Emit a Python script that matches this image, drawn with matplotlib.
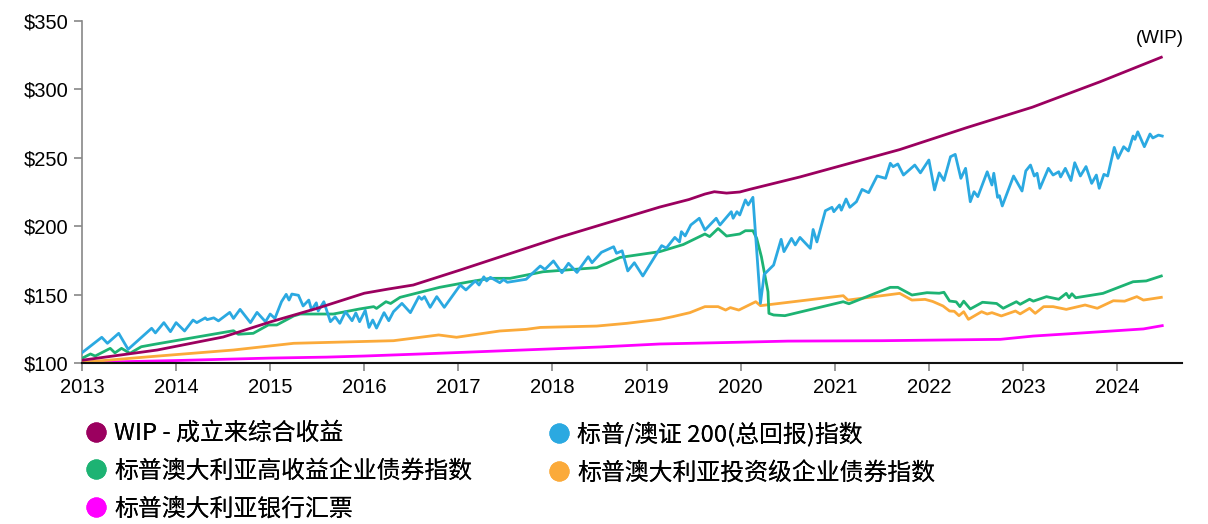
import matplotlib
matplotlib.use("Agg")
import matplotlib.pyplot as plt
from matplotlib.lines import Line2D

plt.rcParams['font.family'] = ['Noto Sans CJK SC', 'DejaVu Sans']

# series values (year, value)
wip_x = [2013.0, 2013.8, 2014.5, 2015.0, 2015.5, 2016.0, 2016.25, 2016.52, 2017.02, 2017.55,
         2018.08, 2018.61, 2019.14, 2019.45, 2019.62, 2019.72, 2019.85, 2019.99, 2020.1,
         2020.63, 2021.69, 2022.4, 2023.1, 2023.82, 2024.47]
wip_y = [102, 109.5, 119, 130, 140, 151, 154, 157, 168, 180,
         192, 203, 214, 219.5, 223.5, 225.2, 224.2, 225, 227,
         236, 256, 272, 287, 305.6, 323.5]

asx_x = [2013.0, 2013.21, 2013.27, 2013.39, 2013.49, 2013.74, 2013.78, 2013.87, 2013.94, 2014.0,
         2014.09, 2014.18, 2014.22, 2014.31, 2014.33, 2014.40, 2014.45, 2014.57, 2014.61, 2014.68,
         2014.79, 2014.86, 2014.95, 2015.0, 2015.05, 2015.12, 2015.17, 2015.20, 2015.23, 2015.30,
         2015.35, 2015.41, 2015.44, 2015.49, 2015.51, 2015.57, 2015.64, 2015.69, 2015.74, 2015.80,
         2015.87, 2015.91, 2015.95, 2016.01, 2016.05, 2016.09, 2016.13, 2016.21, 2016.26, 2016.31,
         2016.40, 2016.49, 2016.58, 2016.61, 2016.64, 2016.70, 2016.77, 2016.85, 2017.02, 2017.08,
         2017.18, 2017.22, 2017.27, 2017.30, 2017.34, 2017.44, 2017.48, 2017.52, 2017.72, 2017.87,
         2017.92, 2018.01, 2018.10, 2018.17, 2018.26, 2018.38, 2018.42, 2018.52, 2018.65, 2018.68,
         2018.74, 2018.80, 2018.87, 2018.96, 2019.16, 2019.21, 2019.30, 2019.35, 2019.37, 2019.41,
         2019.47, 2019.56, 2019.62, 2019.74, 2019.78, 2019.90, 2019.92, 2019.96, 2019.99, 2020.05,
         2020.08, 2020.13, 2020.21, 2020.25, 2020.35, 2020.43, 2020.46, 2020.54, 2020.58, 2020.63,
         2020.74, 2020.77, 2020.81, 2020.90, 2020.97, 2020.99, 2021.05, 2021.07, 2021.12, 2021.16,
         2021.23, 2021.29, 2021.36, 2021.45, 2021.54, 2021.59, 2021.62, 2021.67, 2021.73, 2021.85,
         2021.91, 2022.0, 2022.06, 2022.11, 2022.16, 2022.23, 2022.28, 2022.34, 2022.39, 2022.44,
         2022.48, 2022.52, 2022.62, 2022.67, 2022.69, 2022.73, 2022.75, 2022.78, 2022.90, 2022.99,
         2023.03, 2023.08, 2023.12, 2023.15, 2023.18, 2023.27, 2023.32, 2023.38, 2023.40, 2023.45,
         2023.51, 2023.55, 2023.61, 2023.67, 2023.73, 2023.78, 2023.81, 2023.86, 2023.90, 2023.97,
         2024.01, 2024.07, 2024.12, 2024.17, 2024.19, 2024.22, 2024.29, 2024.35, 2024.38, 2024.44,
         2024.48]
asx_y = [107.5, 118.8, 114.4, 121.7, 110, 125.4, 122, 129.5, 122.9, 129.5,
         123.4, 131.4, 129.5, 133, 131.7, 133, 130.8, 137, 132.6, 139.2,
         129.5, 137, 130.2, 135.8, 132.6, 144.8, 150.2, 146, 150.4, 149.5,
         141.7, 146, 138.7, 144, 138, 144.8, 130.2, 133.8, 129, 137.5,
         130.9, 136.6, 130.2, 138.5, 126, 131.4, 125.5, 136.8, 130.9, 137.5,
         143.6, 136.8, 148.5, 146.5, 148.5, 140.7, 148.5, 140.7, 157, 153.4,
         160, 157, 163, 160, 162.6, 158.7, 161, 159, 161.2, 170.9,
         168.4, 174.6, 166, 172.9, 166.2, 177.7, 173.3, 180.9, 185, 180.2,
         182, 167.3, 173.3, 163.6, 185.8, 184, 191.8, 188.5, 196, 192.9,
         200.9, 205.8, 197.2, 205.8, 200.9, 210.6, 205.8, 210.6, 208.2, 219.2,
         215.5, 221.1, 143.6, 164.8, 171.6, 190.4, 181.4, 191.1, 186.3, 191.8,
         183.8, 197.6, 188.5, 211.3, 213.8, 210.6, 215.5, 211.7, 219.9, 213.8,
         217.9, 226.9, 224.5, 236.7, 235, 246, 243.5, 245.5, 237.4, 244.7,
         239, 248.4, 226.5, 239, 233.4, 250.8, 252.5, 235, 242.3, 217.9,
         225.2, 221.6, 239.8, 230.1, 238.7, 221.1, 222.3, 214.8, 236.7, 225.7,
         240.4, 244.7, 236.7, 238.7, 227.7, 242.3, 237.4, 239.8, 236, 242.3,
         233.4, 246.4, 236.7, 243.6, 231.3, 237.4, 227.7, 237.9, 236.7, 257.6,
         249.6, 258.1, 255, 265.9, 263.5, 269, 258.1, 267.4, 264.5, 266.6,
         265.9]

hy_x = [2013.0, 2013.09, 2013.14, 2013.30, 2013.35, 2013.42, 2013.51, 2013.63, 2013.79, 2014.61,
        2014.66, 2014.82, 2014.98, 2015.07, 2015.25, 2015.32, 2015.67, 2015.95, 2016.1, 2016.13,
        2016.23, 2016.28, 2016.38, 2016.80, 2017.12, 2017.34, 2017.55, 2017.90, 2018.47, 2018.72,
        2019.14, 2019.39, 2019.62, 2019.67, 2019.76, 2019.85, 2019.99, 2020.05, 2020.13, 2020.17,
        2020.22, 2020.29, 2020.30, 2020.35, 2020.47, 2021.09, 2021.15, 2021.59, 2021.67, 2021.82,
        2021.98, 2022.11, 2022.16, 2022.22, 2022.29, 2022.33, 2022.37, 2022.44, 2022.57, 2022.72,
        2022.79, 2022.93, 2022.97, 2023.07, 2023.11, 2023.25, 2023.38, 2023.46, 2023.49, 2023.52,
        2023.56, 2023.85, 2024.17, 2024.31, 2024.47]
hy_y = [103.4, 106.6, 105.1, 110.7, 107.4, 110.7, 107.1, 111.9, 113.9, 123.6,
        121, 121.7, 127.8, 127.8, 134.4, 135.8, 135.8, 139.5, 141.2, 139.9,
        144.8, 143.5, 148, 155.3, 159.4, 161.9, 161.9, 166.7, 169.7, 177.2,
        181.4, 186.6, 194.3, 192.4, 198.3, 192.8, 194.3, 196.7, 196.7, 191.1,
        177.7, 152.1, 136.3, 135.1, 134.6, 144.8, 143.3, 155.3, 155.3, 149.7,
        151.4, 151, 151.7, 145.3, 144.7, 141.2, 145.2, 139.5, 144.4, 143.5,
        140, 144.8, 142.9, 146.6, 145.2, 148.5, 146.6, 150.9, 147.7, 150.6,
        147.7, 150.9, 159.4, 160, 163.6]

ig_x = [2013.0, 2013.72, 2014.61, 2015.25, 2016.31, 2016.79, 2016.98, 2017.44, 2017.72, 2017.87,
        2018.47, 2018.79, 2019.14, 2019.28, 2019.46, 2019.62, 2019.76, 2019.84, 2019.89, 2019.98,
        2020.16, 2020.21, 2021.09, 2021.14, 2021.69, 2021.82, 2021.96, 2022.04, 2022.15, 2022.22,
        2022.27, 2022.32, 2022.37, 2022.42, 2022.56, 2022.62, 2022.67, 2022.77, 2022.92, 2022.97,
        2023.07, 2023.13, 2023.22, 2023.32, 2023.46, 2023.66, 2023.79, 2023.96, 2024.08, 2024.21,
        2024.28, 2024.47]
ig_y = [100.5, 104.6, 109.5, 114.4, 116.3, 120.5, 118.8, 123.4, 124.6, 126,
        127, 129, 131.9, 133.9, 136.8, 141.2, 141.2, 138.7, 140.5, 138.7,
        144.8, 141.9, 149.2, 146, 150.9, 146, 146.5, 145, 141.7, 138,
        137.8, 134.6, 137.5, 131.9, 137.5, 135.8, 136.8, 134.4, 138, 135.9,
        140, 136.3, 141.2, 141.2, 139.2, 142.4, 140, 145.5, 145.2, 148.5,
        146, 148]

bb_x = [2013.0, 2014.0, 2015.0, 2015.6, 2016.0, 2016.6, 2017.5, 2018.5, 2019.14, 2020.0,
        2020.5, 2021.5, 2022.76, 2023.11, 2023.5, 2024.28, 2024.48]
bb_y = [100.3, 101.8, 103.6, 104.3, 105.1, 106.6, 109, 111.7, 113.9, 115.2,
        116, 116.3, 117.3, 119.7, 121.4, 124.9, 127.3]

labels = ['WIP - 成立来综合收益', '标普/澳证 200(总回报)指数', '标普澳大利亚高收益企业债券指数',
          '标普澳大利亚投资级企业债券指数', '标普澳大利亚银行汇票']
colors = ['#9B005F', '#2BA9E1', '#1DB373', '#FBAA3A', '#FF00FF']
year_ticks = list(range(2013, 2025))
money_ticks = [100, 150, 200, 250, 300, 350]

W, H = 1208, 524
fig = plt.figure(figsize=(W / 100, H / 100), dpi=100)
ax = fig.add_axes([82 / W, 1 - 363 / H, 1100 / W, 342 / H])

series = [(wip_x, wip_y), (asx_x, asx_y), (hy_x, hy_y), (ig_x, ig_y), (bb_x, bb_y)]
# draw bottom series first so WIP sits on top
for i in [4, 3, 2, 1, 0]:
    xs, ys = series[i]
    ax.plot(xs, ys, color=colors[i], lw=2.0, solid_joinstyle='round', zorder=3 + (4 - i))

ax.text(wip_x[-1] - 0.02, 331, '(WIP)', fontsize=13.5, ha='center', va='bottom',
        family=['Liberation Sans', 'DejaVu Sans'])

ax.set_xlim(2013, 2024.69)
ax.set_ylim(100, 350)
ax.set_xticks(year_ticks)
ax.set_xticklabels([str(y) for y in year_ticks])
ax.set_yticks(money_ticks)
ax.set_yticklabels(['$%d' % v for v in money_ticks])
for s in ['top', 'right']:
    ax.spines[s].set_visible(False)
ax.spines['left'].set_color('#888888')
ax.spines['left'].set_linewidth(1.2)
ax.spines['bottom'].set_color('#111111')
ax.spines['bottom'].set_linewidth(1.5)
ax.spines['bottom'].set_zorder(10)
ax.tick_params(axis='y', length=6, color='#888888', width=1.2, labelsize=14.5, pad=3.5)
ax.tick_params(axis='x', length=6, color='#888888', width=1.2, labelsize=14.5, pad=5)
for lab in ax.get_xticklabels() + ax.get_yticklabels():
    lab.set_family(['Liberation Sans', 'DejaVu Sans'])

# legend: two columns placed like the reference
cols = [[0, 2, 4], [1, 3]]
col_left = [85, 548]
for c, idx in enumerate(cols):
    handles = [Line2D([], [], ls='none', marker='o', ms=13.5, color=colors[i]) for i in idx]
    leg = fig.legend(handles, [labels[i] for i in idx], loc='upper left',
                     bbox_to_anchor=(col_left[c] / W, 1 - 422 / H), frameon=False,
                     fontsize=17.2, borderpad=0, borderaxespad=0,
                     handletextpad=0.28, handlelength=0.95, labelspacing=0.62)
    fig.add_artist(leg)

fig.savefig('out.png', dpi=100)
